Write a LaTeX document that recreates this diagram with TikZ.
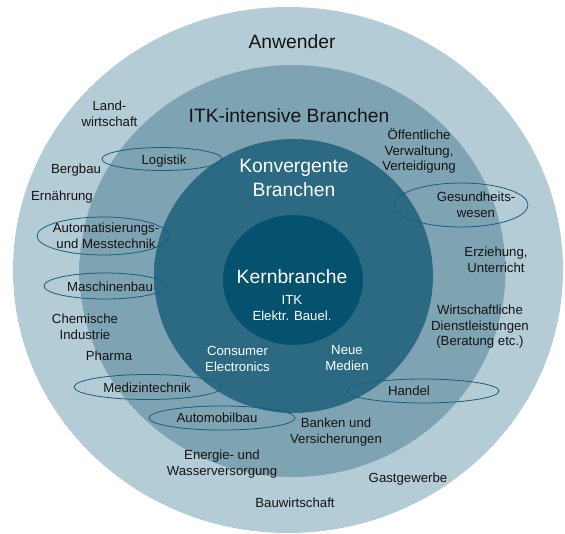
\documentclass[tikz,border=0pt]{standalone}
\usepackage{fontspec}
\setmainfont{Liberation Sans}
\usetikzlibrary{shapes.geometric}
\definecolor{outerc}{RGB}{179,204,213}
\definecolor{itklight}{RGB}{164,195,206}
\definecolor{itkdark}{RGB}{126,163,179}
\definecolor{konlight}{RGB}{58,122,147}
\definecolor{kondark}{RGB}{44,106,132}
\definecolor{kernc}{RGB}{4,82,110}
\definecolor{ellc}{RGB}{24,94,126}
\definecolor{txtc}{RGB}{20,20,20}
\pgfdeclareradialshading{itkshade}{\pgfpoint{0bp}{0bp}}{color(0bp)=(itkdark); color(33bp)=(itkdark); color(50bp)=(itklight)}
\pgfdeclareradialshading{konshade}{\pgfpoint{0bp}{0bp}}{color(0bp)=(kondark); color(26bp)=(kondark); color(50bp)=(konlight)}
\begin{document}
\begin{tikzpicture}[x=1pt,y=-1pt,
  lbl/.style={font=\fontsize{13.2}{15.5}\selectfont, text=txtc, align=center, inner sep=0pt},
  wlbl/.style={font=\fontsize{13.2}{16}\selectfont, text=white, align=center, inner sep=0pt},
  title/.style={font=\fontsize{19.3}{24}\selectfont, text=txtc, align=center, inner sep=0pt},
  wtitle/.style={font=\fontsize{19.3}{24}\selectfont, text=white, align=center, inner sep=0pt},
  ell/.style={draw=ellc, line width=0.8pt}]
\useasboundingbox (0,0) rectangle (565,533);
% rings
\fill[outerc] (288,270) ellipse [x radius=275, y radius=263];
\path[shading=itkshade] (292.5,271) ellipse [x radius=213, y radius=206];
\path[shading=konshade] (293.5,276) ellipse [x radius=139.5, y radius=137];
\fill[kernc] (293,280) ellipse [x radius=70, y radius=65];
% ellipses
\draw[ell] (162,159) ellipse [x radius=60, y radius=11.5];
\draw[ell] (103,236) ellipse [x radius=66, y radius=19];
\draw[ell] (105,286) ellipse [x radius=61, y radius=13];
\draw[ell] (461,205) ellipse [x radius=67, y radius=22];
\draw[ell] (148,387) ellipse [x radius=74, y radius=12.5];
\draw[ell] (423,391) ellipse [x radius=76, y radius=12];
\draw[ell] (222,418) ellipse [x radius=73, y radius=12];
% titles
\node[title] (anw) at (292,42) {Anwender};
\node[title] (itk) at (289,116) {ITK-intensive Branchen};
\node[wtitle] (konv) at (294,178) {Konvergente\\Branchen};
\node[wtitle] (kern) at (292,277) {Kernbranche};
\node[wlbl] (itkel) at (292,308) {ITK\\Elektr. Bauel.};
\node[wlbl] (cons) at (237.5,358.5) {Consumer\\Electronics};
\node[wlbl] (neue) at (347,358.5) {Neue\\Medien};
% labels
\node[lbl] (land) at (109.5,114) {Land-\\wirtschaft};
\node[lbl] (berg) at (76,170) {Bergbau};
\node[lbl] (logi) at (164,161) {Logistik};
\node[lbl] (oeff) at (419,151) {Öffentliche\\Verwaltung,\\Verteidigung};
\node[lbl] (ernae) at (62,197) {Ernährung};
\node[lbl] (gesu) at (476,205) {Gesundheits-\\wesen};
\node[lbl] (auto) at (106,236) {Automatisierungs-\\und Messtechnik};
\node[lbl] (erzi) at (496,260) {Erziehung,\\Unterricht};
\node[lbl] (masch) at (110,287) {Maschinenbau};
\node[lbl] (chem) at (85,327) {Chemische\\Industrie};
\node[lbl] (wirt) at (480,327) {Wirtschaftliche\\Dienstleistungen\\(Beratung etc.)};
\node[lbl] (pharma) at (109,356) {Pharma};
\node[lbl] (medi) at (147,388) {Medizintechnik};
\node[lbl] (handel) at (409,391) {Handel};
\node[lbl] (autom) at (217,418) {Automobilbau};
\node[lbl] (bank) at (336,432) {Banken und\\Versicherungen};
\node[lbl] (energ) at (222,464) {Energie- und\\Wasserversorgung};
\node[lbl] (gast) at (408,479) {Gastgewerbe};
\node[lbl] (bau) at (295,503) {Bauwirtschaft};
\end{tikzpicture}
\end{document}
